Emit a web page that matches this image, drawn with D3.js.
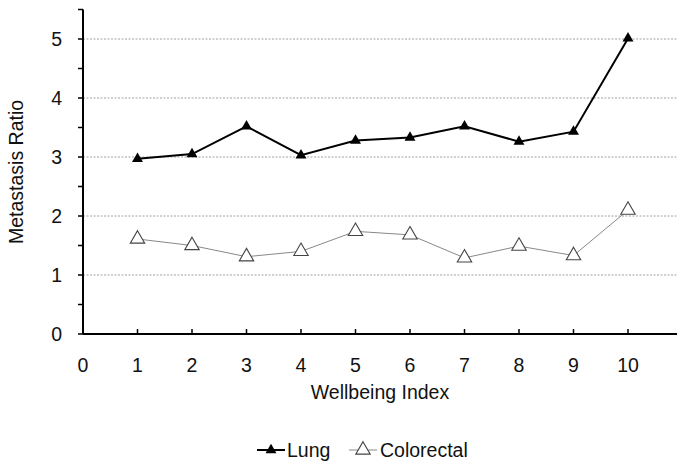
<!DOCTYPE html>
<html><head><meta charset="utf-8">
<script src="https://cdn.jsdelivr.net/npm/d3@7"></script>
<style>body{margin:0;background:#fff}svg{display:block;font-family:"Liberation Sans",Arial,sans-serif}</style>
</head><body><svg id="c" width="685" height="464"></svg>
<script>
const categories = [1,2,3,4,5,6,7,8,9,10];
const lungValues = [2.97,3.05,3.52,3.03,3.28,3.33,3.52,3.26,3.43,5.01];
const colorectalValues = [1.61,1.50,1.31,1.40,1.74,1.68,1.29,1.49,1.33,2.10];
const xTicks = [0,1,2,3,4,5,6,7,8,9,10];
const yTicks = [0,1,2,3,4,5];
const seriesNames = ["Lung","Colorectal"];

const FS = 19.5;
const svg = d3.select("#c");
const x = d3.scaleLinear().domain([0,10]).range([83,628]);
const y = d3.scaleLinear().domain([0,5]).range([334,39]);
const xEnd = x(10.9), yTop = y(5.5);

// gridlines
svg.append("g").selectAll("line").data(yTicks.filter(d=>d>0)).join("line")
  .attr("x1",x(0)).attr("x2",xEnd).attr("y1",d=>y(d)).attr("y2",d=>y(d))
  .attr("stroke","#888").attr("stroke-width",0.8).attr("stroke-dasharray","2,1.5");

// y axis
const ya = svg.append("g").attr("transform",`translate(${x(0)},0)`);
ya.append("line").attr("x1",0).attr("x2",0).attr("y1",yTop).attr("y2",y(0)).attr("stroke","#000").attr("stroke-width",2);
const yMinor = d3.range(0,5.51,0.5);
ya.selectAll(".yt").data(yMinor).join("line").attr("class","yt")
  .attr("x1",-5).attr("x2",0).attr("y1",d=>y(d)).attr("y2",d=>y(d)).attr("stroke","#000").attr("stroke-width",1.5);
ya.selectAll("text").data(yTicks).join("text")
  .attr("x",-21).attr("y",d=>y(d)).attr("dy","0.36em").attr("text-anchor","end")
  .attr("font-size",FS).attr("fill","#111").text(d=>d);

// x axis
const xa = svg.append("g").attr("transform",`translate(0,${y(0)})`);
xa.append("line").attr("x1",x(0)).attr("x2",xEnd).attr("y1",0).attr("y2",0).attr("stroke","#000").attr("stroke-width",2);
xa.selectAll(".xt").data(xTicks.filter(d=>d>0)).join("line").attr("class","xt")
  .attr("x1",d=>x(d)).attr("x2",d=>x(d)).attr("y1",-5).attr("y2",0).attr("stroke","#000").attr("stroke-width",1.5);
xa.selectAll("text").data(xTicks).join("text")
  .attr("x",d=>x(d)).attr("y",38).attr("text-anchor","middle")
  .attr("font-size",FS).attr("fill","#111").text(d=>d);

// titles
svg.append("text").attr("x",380).attr("y",399).attr("text-anchor","middle").attr("font-size",FS).attr("fill","#111").text("Wellbeing Index");
svg.append("text").attr("transform","translate(23,172) rotate(-90)").attr("text-anchor","middle").attr("font-size",FS).attr("fill","#111").text("Metastasis Ratio");

const line = d3.line().x(d=>x(d[0])).y(d=>y(d[1]));
const lungData = categories.map((c,i)=>[c,lungValues[i]]);
const colData = categories.map((c,i)=>[c,colorectalValues[i]]);

const triSolid = d3.symbol().type(d3.symbolTriangle).size(52);
const triOpen = d3.symbol().type(d3.symbolTriangle).size(90);

svg.append("path").attr("d",line(colData)).attr("fill","none").attr("stroke","#888").attr("stroke-width",1);
svg.append("g").selectAll("path").data(colData).join("path")
  .attr("d",triOpen()).attr("transform",d=>`translate(${x(d[0])},${y(d[1])})`)
  .attr("fill","#fff").attr("stroke","#444").attr("stroke-width",1.1);

svg.append("path").attr("d",line(lungData)).attr("fill","none").attr("stroke","#000").attr("stroke-width",2);
svg.append("g").selectAll("path").data(lungData).join("path")
  .attr("d",triSolid()).attr("transform",d=>`translate(${x(d[0])},${y(d[1])})`)
  .attr("fill","#000");

// legend
const lg = svg.append("g");
lg.append("line").attr("x1",257).attr("x2",285).attr("y1",450).attr("y2",450).attr("stroke","#000").attr("stroke-width",2);
lg.append("path").attr("d",triSolid()).attr("transform","translate(271,450)").attr("fill","#000");
lg.append("text").attr("x",287).attr("y",450).attr("dy","0.36em").attr("font-size",FS).attr("fill","#111").text(seriesNames[0]);
lg.append("line").attr("x1",349).attr("x2",377).attr("y1",450).attr("y2",450).attr("stroke","#888").attr("stroke-width",1);
lg.append("path").attr("d",triOpen()).attr("transform","translate(363,450)").attr("fill","#fff").attr("stroke","#444").attr("stroke-width",1.1);
lg.append("text").attr("x",380).attr("y",450).attr("dy","0.36em").attr("font-size",FS).attr("fill","#111").text(seriesNames[1]);
</script></body></html>
